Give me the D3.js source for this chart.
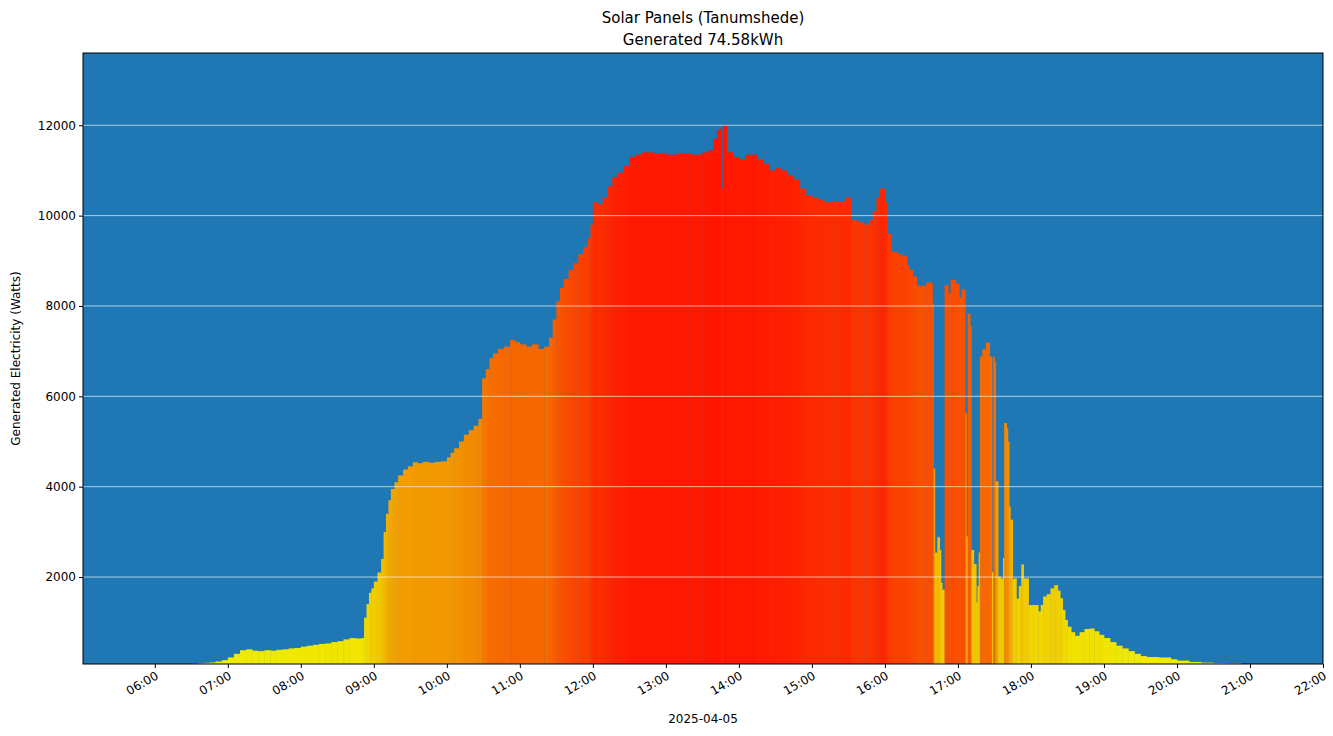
<!DOCTYPE html>
<html><head><meta charset="utf-8">
<script src="https://cdn.jsdelivr.net/npm/d3@7"></script>
<style>body{margin:0;background:#fff}text{font-family:"DejaVu Sans",sans-serif}</style>
</head><body><svg id="c" width="1333" height="736"></svg>
<script>
const times = ["06:30","06:35","06:40","06:45","06:50","06:55","07:00","07:05","07:10","07:15","07:20","07:25","07:30","07:35","07:40","07:45","07:50","07:55","08:00","08:05","08:10","08:15","08:20","08:25","08:30","08:35","08:40","08:45","08:50","08:52","08:54","08:56","08:58","09:00","09:03","09:06","09:08","09:10","09:12","09:14","09:17","09:20","09:24","09:28","09:32","09:36","09:40","09:45","09:50","09:55","10:00","10:03","10:06","10:10","10:14","10:18","10:22","10:26","10:29","10:32","10:35","10:38","10:42","10:47","10:52","10:56","11:00","11:05","11:10","11:15","11:20","11:24","11:27","11:30","11:33","11:36","11:40","11:44","11:48","11:52","11:56","11:58","12:00","12:04","12:08","12:12","12:16","12:20","12:25","12:30","12:35","12:40","12:50","13:00","13:10","13:20","13:30","13:35","13:39","13:42","13:45","13:46","13:47","13:50","13:55","14:00","14:05","14:10","14:15","14:20","14:25","14:30","14:35","14:40","14:45","14:50","14:55","15:00","15:05","15:10","15:20","15:28","15:32","15:38","15:43","15:47","15:50","15:53","15:56","16:00","16:02","16:05","16:10","16:14","16:18","16:20","16:23","16:26","16:34","16:39","16:40","16:41","16:43","16:45","16:46","16:47","16:49","16:52","16:54","16:58","17:01","17:03","17:06","17:07","17:08","17:10","17:11","17:13","17:15","17:16","17:17","17:18","17:20","17:23","17:26","17:28","17:29","17:30","17:31","17:33","17:35","17:37","17:38","17:40","17:41","17:42","17:43","17:45","17:46","17:48","17:50","17:52","17:54","17:58","18:02","18:06","18:08","18:10","18:13","18:16","18:19","18:22","18:24","18:26","18:28","18:30","18:33","18:36","18:40","18:44","18:48","18:52","18:56","19:00","19:05","19:10","19:15","19:20","19:25","19:30","19:35","19:45","19:55","20:00","20:10","20:20","20:30","20:40","20:50"];
const watts = [80,90,100,110,130,160,220,300,380,400,370,360,380,370,390,400,420,430,460,480,500,520,530,560,580,620,650,640,650,1100,1400,1650,1750,1900,2100,2400,3000,3400,3700,3950,4100,4250,4380,4450,4540,4520,4550,4530,4550,4560,4650,4750,4850,5000,5150,5250,5350,5500,6400,6600,6850,6950,7050,7100,7250,7200,7150,7100,7150,7050,7100,7300,7700,8100,8400,8600,8800,8950,9150,9300,9500,9800,10300,10250,10400,10650,10850,10950,11100,11300,11350,11400,11380,11350,11380,11350,11400,11450,11700,11900,11950,10600,12000,11400,11300,11250,11350,11350,11250,11150,11000,11050,11000,10900,10800,10600,10450,10400,10350,10300,10300,10400,9900,9850,9800,9900,10100,10400,10600,10300,9600,9200,9150,9100,8900,8800,8650,8450,8520,8060,4400,2540,2880,2600,1870,1720,8460,8280,8580,8500,8190,8370,5630,2900,7830,7550,2600,2290,1440,1800,2540,6880,7040,7190,6880,2110,6880,6770,4120,2010,1970,2420,5410,5290,5000,3560,3270,1950,1970,1520,1800,2280,1970,1380,1380,1240,1380,1570,1620,1750,1820,1700,1530,1270,1050,900,780,700,780,850,860,800,720,650,560,480,420,360,300,250,230,220,180,150,120,105,95,90,85];
const endTime = "20:53";
const yTicks = [2000,4000,6000,8000,10000,12000];
const xTickLabels = ["06:00","07:00","08:00","09:00","10:00","11:00","12:00","13:00","14:00","15:00","16:00","17:00","18:00","19:00","20:00","21:00","22:00"];
const title1 = "Solar Panels (Tanumshede)", title2 = "Generated 74.58kWh";
const xLabel = "2025-04-05", yLabel = "Generated Electricity (Watts)";

const svg = d3.select("#c");
const L=83,R=1323,T=53,B=664;
const mins = s => {const [h,m]=s.split(":").map(Number);return h*60+m;};
const x = d3.scaleLinear().domain([mins("05:01"), mins("22:00")]).range([L,R]);
const y = d3.scaleLinear().domain([75,13600]).range([B,T]);
const col = d3.scaleLinear().domain([0,5000,11500]).range(["#f0f000","#f39000","#ff1500"]).clamp(true);
svg.append("rect").attr("x",L).attr("y",T).attr("width",R-L).attr("height",B-T).attr("fill","#1f77b4");
const allT = times.concat([endTime]).map(mins);
const g = svg.append("g");
watts.forEach((v,i)=>{
  const x0=x(allT[i]), x1=x(allT[i+1]);
  g.append("rect").attr("x",x0).attr("width",x1-x0+0.4).attr("y",y(v)).attr("height",B-y(v)).attr("fill",col(v));
});
yTicks.forEach(t=>{
  svg.append("line").attr("x1",L).attr("x2",R).attr("y1",y(t)).attr("y2",y(t)).attr("stroke","#fff").attr("stroke-opacity",0.8).attr("stroke-width",0.8);
});
const ya = svg.append("g").attr("transform",`translate(${L},0)`).call(d3.axisLeft(y).tickValues(yTicks).tickFormat(d=>d).tickSize(4));
ya.selectAll("text").attr("font-size",12).attr("fill","#000");
const xa = svg.append("g").attr("transform",`translate(0,${B})`).call(d3.axisBottom(x).tickValues(xTickLabels.map(mins)).tickFormat((d,i)=>xTickLabels[i]).tickSize(4));
xa.selectAll("text").attr("font-size",12).attr("fill","#000").attr("text-anchor","end").attr("dx","-0.3em").attr("dy","0.6em").attr("transform","rotate(-30)");
svg.selectAll(".domain").remove();
svg.append("rect").attr("x",L).attr("y",T).attr("width",R-L).attr("height",B-T).attr("fill","none").attr("stroke","#000").attr("stroke-width",1);
svg.append("text").attr("x",703).attr("y",23).attr("text-anchor","middle").attr("font-size",15).text(title1);
svg.append("text").attr("x",703).attr("y",45).attr("text-anchor","middle").attr("font-size",15).text(title2);
svg.append("text").attr("x",703).attr("y",723).attr("text-anchor","middle").attr("font-size",12).text(xLabel);
svg.append("text").attr("transform",`translate(20,${(T+B)/2}) rotate(-90)`).attr("text-anchor","middle").attr("font-size",12).text(yLabel);
</script></body></html>
